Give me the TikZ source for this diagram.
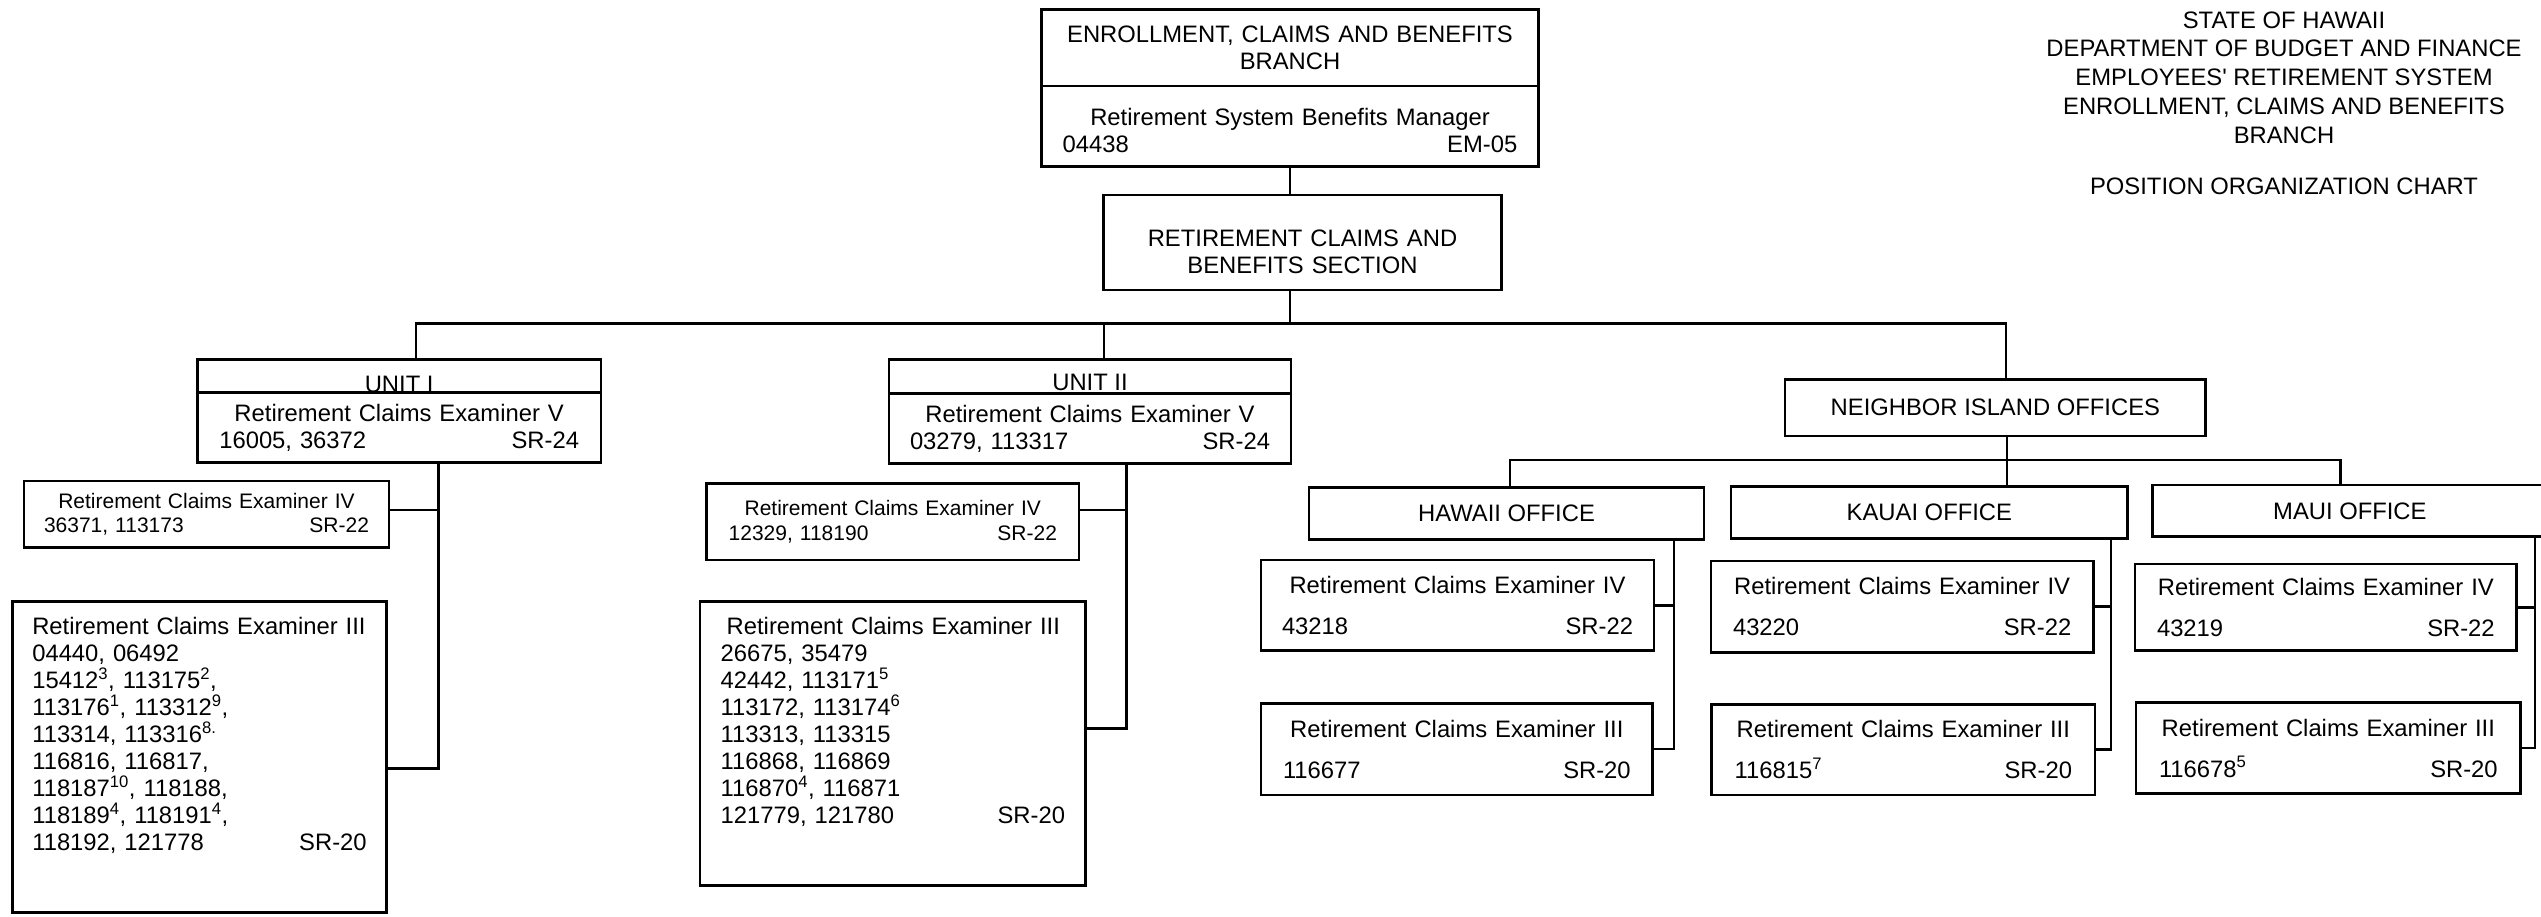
\documentclass[tikz,border=0pt]{standalone}
\usepackage{fontspec}
\setmainfont{Liberation Sans}
\usetikzlibrary{positioning}

\begin{document}
\begin{tikzpicture}[x=1pt, y=-1pt,
  every node/.style={font=\fontsize{23.8}{27}\selectfont},
  orgbox/.style={draw, line width=2.5pt, inner sep=0pt, outer sep=0pt},
  headbox/.style 2 args={orgbox, minimum width=#1, minimum height=#2},
  unitbox/.style={orgbox, minimum width=#1, text height=33pt, text depth=0pt},
  posbox/.style n args={3}{orgbox, text width=#1, minimum height=#2, inner xsep=#3, align=center},
  listbox/.style n args={3}{orgbox, text width=#1, text depth=#2, inner xsep=#3, inner ysep=16pt, align=left},
  small/.style={font=\fontsize{21}{24.3}\selectfont},
  link/.style={line width=2.5pt}]
\useasboundingbox (0,0) rectangle (2541,916);
\fill[white] (0,0) rectangle (2541,916);

\node[posbox={454.6pt}{76.7pt}{21pt}, anchor=north west] (branch) at (1041.7,9.3) {ENROLLMENT, CLAIMS AND BENEFITS\\BRANCH};
\node[posbox={454.6pt}{80.7pt}{21pt}, text height=24.7pt, below=0pt of branch] (mgr) {Retirement System Benefits Manager\\04438\hfill EM-05\hspace*{48pt}};
\node[posbox={378.4pt}{95pt}{10pt}, text height=35.6pt, anchor=north west] (section) at (1103.3,195) {RETIREMENT CLAIMS AND\\BENEFITS SECTION};

\node[unitbox=403.7pt, anchor=north west] (u1) at (197.3,359.3) {UNIT I};
\node[posbox={359.7pt}{70.4pt}{22pt}, below=0pt of u1] (u1pos) {Retirement Claims Examiner V\\16005, 36372\hfill SR-24};
\node[posbox={325pt}{66.3pt}{20pt}, small, anchor=north west] (u1iv) at (24,481) {Retirement Claims Examiner IV\\36371, 113173\hfill SR-22};
\node[listbox={334.4pt}{261.3pt}{20pt}, anchor=north west] (u1iii) at (12.3,601.7) {Retirement Claims Examiner III\\04440, 06492\\15412\textsuperscript{3}, 113175\textsuperscript{2},\\113176\textsuperscript{1}, 113312\textsuperscript{9},\\113314, 113316\textsuperscript{8.}\\116816, 116817,\\118187\textsuperscript{10}, 118188,\\118189\textsuperscript{4}, 118191\textsuperscript{4},\\118192, 121778\hfill SR-20\hspace*{22pt}};

\node[unitbox=402pt, text height=31.2pt, text depth=3pt, anchor=north west] (u2) at (889,359.3) {UNIT II};
\node[posbox={360pt}{70pt}{21pt}, below=0pt of u2] (u2pos) {Retirement Claims Examiner V\\03279, 113317\hfill SR-24\hspace*{3pt}};
\node[posbox={328.3pt}{76.7pt}{22pt}, small, anchor=north west] (u2iv) at (706.7,483.3) {Retirement Claims Examiner IV\\12329, 118190\hfill SR-22};
\node[listbox={344.3pt}{234.3pt}{20.7pt}, anchor=north west] (u2iii) at (700,601.7) {\hspace*{6pt}Retirement Claims Examiner III\\26675, 35479\\42442, 113171\textsuperscript{5}\\113172, 113174\textsuperscript{6}\\113313, 113315\\116868, 116869\\116870\textsuperscript{4}, 116871\\121779, 121780\hfill SR-20\hspace*{8pt}};

\node[headbox={420.7pt}{56.7pt}, anchor=north west] (nbr) at (1785,379.3) {NEIGHBOR ISLAND OFFICES};
\node[headbox={395pt}{52pt}, anchor=north west] (hawaii) at (1309,487.3) {HAWAII OFFICE};
\node[headbox={396.7pt}{51.6pt}, anchor=north west] (kauai) at (1731,486.7) {KAUAI OFFICE};
\node[headbox={394.3pt}{51.7pt}, anchor=north west] (maui) at (2152.7,485) {MAUI OFFICE};

\node[posbox={351pt}{90.7pt}{21pt}, anchor=north west] (hawiv) at (1261,560) {Retirement Claims Examiner IV\\[14pt]43218\hfill SR-22\hspace*{4pt}};
\node[posbox={347.7pt}{91.7pt}{22pt}, anchor=north west] (hawiii) at (1261,703.3) {Retirement Claims Examiner III\\[14pt]116677\hfill SR-20};
\node[posbox={338.3pt}{91.3pt}{22pt}, anchor=north west] (kauiv) at (1711,561) {Retirement Claims Examiner IV\\[14pt]43220\hfill SR-22\hspace*{5pt}};
\node[posbox={337.3pt}{90.7pt}{23pt}, anchor=north west] (kauiii) at (1711.7,704.3) {Retirement Claims Examiner III\\[14pt]116815\textsuperscript{7}\hfill SR-20\hspace*{9pt}};
\node[posbox={337.7pt}{86.7pt}{22pt}, anchor=north west] (mauiv) at (2135,564) {Retirement Claims Examiner IV\\[14pt]43219\hfill SR-22\hspace*{4pt}};
\node[posbox={338.7pt}{90.6pt}{23pt}, anchor=north west] (mauiii) at (2136,702.7) {Retirement Claims Examiner III\\[14pt]116678\textsuperscript{5}\hfill SR-20\hspace*{3pt}};

\node[align=center, inner sep=0pt, anchor=north, font=\fontsize{23.8}{28.8}\selectfont] (title) at (2284,11.2) {STATE OF HAWAII\\DEPARTMENT OF BUDGET AND FINANCE\\EMPLOYEES\textquotesingle\ RETIREMENT SYSTEM\\ENROLLMENT, CLAIMS AND BENEFITS\\BRANCH\\[22pt]POSITION ORGANIZATION CHART};

\coordinate (barL) at (416,323.3);
\coordinate (barM) at (1104,323.3);
\coordinate (barR) at (2006,323.3);
\coordinate (spine1) at (438.3,0);
\coordinate (spine2) at (1126.7,0);
\coordinate (obarL) at (1510,460);
\coordinate (obarM) at (2007,460);
\coordinate (obarR) at (2340.7,460);
\coordinate (hawx) at (1674,0);
\coordinate (kaux) at (2111,0);
\coordinate (maux) at (2535,0);

\draw[link] (mgr.south) -- (mgr.south |- section.north);
\draw[link] (mgr.south |- section.south) -- (mgr.south |- barL);
\draw[link] (barL |- u1.north) -- (barL) -- (barR) -- (barR |- nbr.north);
\draw[link] (barM) -- (barM |- u2.north);
\draw[link] (spine1 |- u1pos.south) |- ([yshift=4pt]u1iv.east);
\draw[link] (spine1 |- u1pos.south) |- ([yshift=-11.5pt]u1iii.east);
\draw[link] (spine2 |- u2pos.south) |- ([yshift=11.7pt]u2iv.east);
\draw[link] (spine2 |- u2pos.south) |- ([yshift=15pt]u2iii.east);
\draw[link] (obarL |- hawaii.north) -- (obarL) -- (obarR) -- (obarR |- maui.north);
\draw[link] (obarM |- nbr.south) -- (obarM |- kauai.north);
\draw[link] (hawx |- hawaii.south) |- (hawiv.east);
\draw[link] (hawx |- hawaii.south) |- (hawiii.east);
\draw[link] (kaux |- kauai.south) |- (kauiv.east);
\draw[link] (kaux |- kauai.south) |- (kauiii.east);
\draw[link] (maux |- maui.south) |- (mauiv.east);
\draw[link] (maux |- maui.south) |- (mauiii.east);
\end{tikzpicture}
\end{document}
